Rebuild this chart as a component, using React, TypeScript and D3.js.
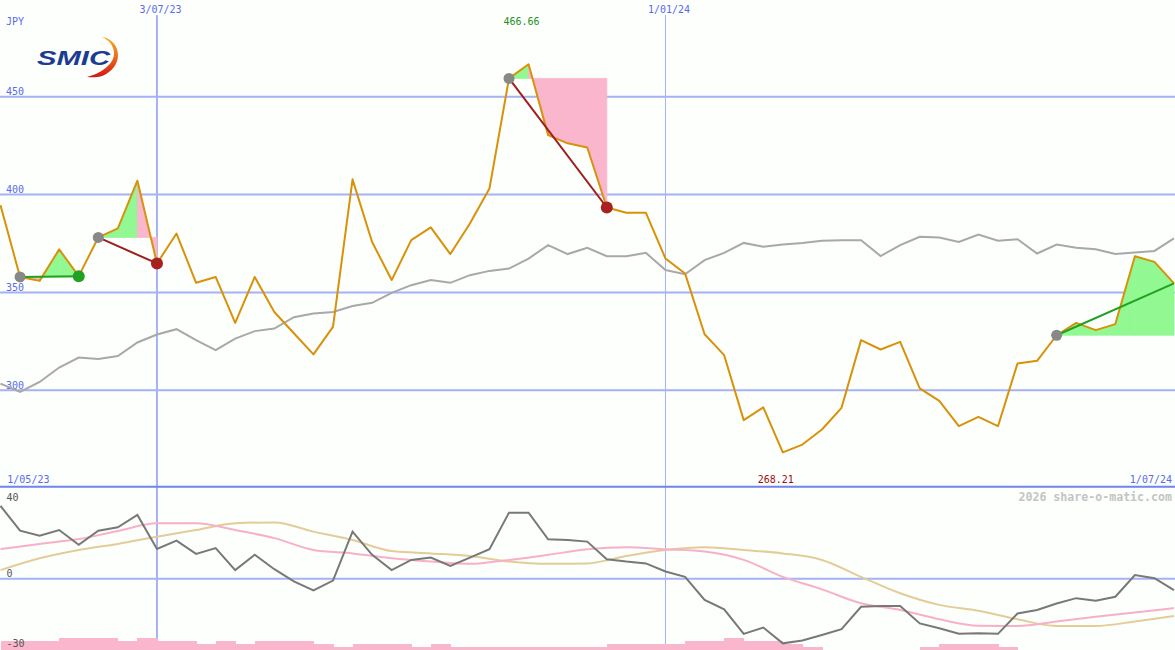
import React from "react";
import * as d3 from "d3";

// ---------- data ----------
const WEEK_MS = 7 * 864e5;
const FIRST_WEEK = Date.UTC(2023, 4, 8);
const LAST_WEEK = Date.UTC(2024, 6, 1);

// weekly close (JPY)
const prices = [
  394.6, 357.9, 355.9, 372.0, 358.3, 378.1, 382.7, 407.1, 364.8, 380.1,
  354.9, 357.9, 334.4, 357.9, 340.0, 329.1, 318.3, 332.4, 407.8, 375.8,
  356.3, 376.7, 383.2, 369.6, 385.2, 403.1, 459.4, 466.66, 430.4, 426.2,
  424.1, 393.4, 390.7, 390.7, 367.3, 359.7, 328.6, 317.9, 284.7, 291.2,
  268.21, 272.2, 279.9, 291.0, 325.6, 320.8, 324.7, 300.9, 294.5, 281.6,
  286.4, 281.6, 313.7, 315.0, 328.1, 334.4, 330.7, 333.8, 368.5, 365.6,
  354.6,
];

// comparison index (rebased)
const benchmark = [
  303.4, 299.1, 304.2, 311.6, 316.7, 315.9, 317.5, 324.4, 328.5, 331.2,
  325.6, 320.5, 326.4, 330.2, 331.5, 337.3, 339.2, 340.0, 343.0, 344.7,
  349.8, 353.7, 356.3, 354.9, 358.8, 361.0, 362.2, 367.3, 374.2, 369.6,
  372.8, 368.5, 368.5, 370.2, 361.4, 359.3, 366.5, 370.2, 375.3, 373.3,
  374.5, 375.3, 376.4, 376.7, 376.7, 368.6, 374.2, 378.4, 378.1, 375.8,
  379.6, 376.4, 377.2, 369.9, 374.5, 372.8, 372.1, 369.6, 370.4, 371.2,
  377.6,
];

// lower panel: weekly momentum
const momentum = [
  31.4, 20.7, 18.5, 21.0, 14.6, 20.7, 22.2, 27.5, 12.8, 16.4,
  10.7, 13.2, 3.7, 10.3, 4.1, -1.2, -5.1, -0.8, 20.3, 10.3,
  3.7, 8.1, 9.1, 5.5, 9.1, 12.7, 28.5, 28.5, 17.0, 16.7,
  16.0, 8.4, 7.4, 6.6, 3.1, 0.8, -9.2, -13.2, -23.8, -21.1,
  -27.9, -26.7, -24.3, -21.8, -12.1, -11.8, -11.8, -19.3, -21.4, -23.8,
  -23.6, -23.8, -15.0, -13.5, -10.7, -8.4, -9.5, -7.8, 1.6, 0.2,
  -4.9,
];

// lower panel: smoothed averages, sampled every two weeks
const avgFast = [
  12.8, 15.0, 17.1, 20.6, 23.9, 23.9, 21.0, 17.5, 12.4, 10.9,
  8.8, 7.4, 6.4, 8.1, 10.3, 12.7, 13.6, 12.7, 11.7, 8.1,
  0.8, -4.6, -10.6, -13.5, -17.5, -20.3, -20.4, -18.5, -16.4, -14.6,
  -12.7,
];
const avgSlow = [
  3.7, 8.8, 12.4, 15.0, 18.1, 21.0, 23.9, 24.3, 20.3, 16.7,
  11.9, 10.9, 9.8, 7.4, 6.4, 6.6, 9.8, 12.4, 13.6, 12.4,
  10.9, 8.1, 0.8, -6.3, -11.3, -13.8, -17.5, -20.4, -20.4, -18.5,
  -16.1,
];

// weekly volume level
const volume = [
  3, 3, 3, 4, 4, 4, 3, 4, 3, 3, 2, 3, 2, 3, 3, 3, 2, 1, 2, 2,
  2, 1, 2, 1, 1, 1, 1, 1, 1, 1, 1, 2, 2, 2, 2, 3, 3, 4, 3, 3,
  2, 1, 0, 0, 0, 0, 0, 1, 2, 2, 2, 1, 0, 0, 0, 0, 0, 0, 0, 0,
];

// trades (week index of entry / exit; null = still open)
const tradeEntry = [1, 5, 26, 54];
const tradeExit: (number | null)[] = [4, 8, 31, null];

const priceTicks = [300, 350, 400, 450];
const lowerTicks = [40, 0, -30];
const dateTicks = [Date.UTC(2023, 6, 3), Date.UTC(2024, 0, 1)];
const rangeLabels = [Date.UTC(2023, 4, 1), Date.UTC(2024, 6, 1)];

// ---------- styles ----------
const W = 1175;
const H = 650;
const BG = "#fcfffc";
const GRID = "#a6b2f2";
const SEP = "#7282ee";
const LABEL_BLUE = "#5a6af0";
const ORANGE = "#d8920a";
const GREY = "#a8a8a8";
const DARK = "#787878";
const PINK_LINE = "#f8b0c8";
const TAN = "#e4cc98";
const PINK_FILL = "#f9b6cc";
const GREEN_FILL = "#92f992";
const MONO = "'DejaVu Sans Mono', monospace";

export default function App() {
  const weekDates = prices.map((_, i) => new Date(FIRST_WEEK + i * WEEK_MS));
  const biDates = avgFast.map((_, i) => new Date(FIRST_WEEK + 2 * i * WEEK_MS));

  const x = d3.scaleUtc().domain([new Date(FIRST_WEEK), new Date(LAST_WEEK)]).range([0.5, 1174]);
  const y = d3.scaleLinear().domain([250, 500]).range([488, -1]);
  const yl = d3.scaleLinear().domain([-30, 40]).range([648.2, 486]);
  const yv = d3.scaleLinear().domain([0, 4]).range([650, 637.7]);

  const fmt = d3.utcFormat("%-d/%m/%y");
  const xi = (i: number) => x(weekDates[i]);

  const priceLine = d3.line<number>().x((_, i) => xi(i)).y((d) => y(d));
  const lowerLine = d3.line<number>().x((_, i) => xi(i)).y((d) => yl(d));
  const biLine = d3.line<number>().x((_, i) => x(biDates[i])).y((d) => yl(d)).curve(d3.curveMonotoneX);
  const poly = d3.line<[number, number]>();

  const maxV = d3.max(prices)!;
  const minV = d3.min(prices)!;
  const maxI = prices.indexOf(maxV);
  const minI = prices.indexOf(minV);

  const fills: { d: string; c: string }[] = [];
  const trades = tradeEntry.map((e, t) => {
    const ex = tradeExit[t];
    const end = ex == null ? prices.length - 1 : ex;
    const base = prices[e];
    for (let i = e; i < end; i++) {
      const pts: [number, number][] = [
        [xi(i), y(base)],
        [xi(i), y(prices[i])],
        [xi(i + 1), y(prices[i + 1])],
        [xi(i + 1), y(base)],
      ];
      fills.push({ d: poly(pts) + "Z", c: prices[i + 1] >= base ? GREEN_FILL : PINK_FILL });
    }
    const win = prices[end] >= base;
    return { e, end, open: ex == null, win };
  });

  return (
    <svg width={W} height={H} style={{ position: "absolute", left: 0, top: 0, display: "block" }}>
      <rect x={0} y={0} width={W} height={H} fill={BG} />

      {/* logo */}
      <defs>
        <linearGradient id="swoosh" x1="0" y1="0" x2="0" y2="1">
          <stop offset="0" stopColor="#f5b022" />
          <stop offset="0.5" stopColor="#ee6a1a" />
          <stop offset="1" stopColor="#d41414" />
        </linearGradient>
      </defs>
      <text x={37} y={65} fontFamily="'Liberation Sans', Arial, sans-serif" fontWeight={900} fontStyle="italic"
        fontSize={21} fill="#1c3c92" textLength={73} lengthAdjust="spacingAndGlyphs">SMIC</text>
      <path d="M102 37 C118 39 125 60 109 72 C103 77 95 78 87 77 C99 74 115 65 114 52 C113 45 109 40 102 37 Z"
        fill="url(#swoosh)" />

      {/* grid */}
      {priceTicks.map((v) => (
        <g key={v}>
          <line x1={0} x2={W} y1={y(v)} y2={y(v)} stroke={GRID} strokeWidth={2} />
          <text x={6} y={y(v) - 1.7} fontFamily={MONO} fontSize={10} fill={LABEL_BLUE}>{v}</text>
        </g>
      ))}
      <line x1={0} x2={W} y1={yl(0)} y2={yl(0)} stroke={GRID} strokeWidth={2} />
      {dateTicks.map((t, i) => (
        <g key={t}>
          <line x1={x(new Date(t))} x2={x(new Date(t))} y1={15} y2={H} stroke={GRID} strokeWidth={i === 0 ? 2 : 1} />
          <text x={x(new Date(t)) - 17.5} y={13.3} fontFamily={MONO} fontSize={10} fill={LABEL_BLUE}>{fmt(new Date(t))}</text>
        </g>
      ))}
      <line x1={0} x2={W} y1={486.7} y2={486.7} stroke={SEP} strokeWidth={2} />

      <text x={6} y={25} fontFamily={MONO} fontSize={10} fill={LABEL_BLUE}>JPY</text>
      <text x={7.3} y={483.3} fontFamily={MONO} fontSize={10} fill={LABEL_BLUE}>{fmt(new Date(rangeLabels[0]))}</text>
      <text x={1172} y={483.3} textAnchor="end" fontFamily={MONO} fontSize={10} fill={LABEL_BLUE}>{fmt(new Date(rangeLabels[1]))}</text>
      <text x={1172} y={500.5} textAnchor="end" fontFamily={MONO} fontSize={11.6} fontWeight="bold" fill="#c4c4c4">2026 share-o-matic.com</text>

      {/* trade fills */}
      {fills.map((f, i) => <path key={i} d={f.d} fill={f.c} stroke={f.c} strokeWidth={0.8} />)}

      {/* main lines */}
      <path d={priceLine(benchmark)!} fill="none" stroke={GREY} strokeWidth={2} />
      <path d={priceLine(prices)!} fill="none" stroke={ORANGE} strokeWidth={2} strokeLinejoin="round" />

      {/* trade lines + markers */}
      {trades.map((t, k) => (
        <line key={"l" + k} x1={xi(t.e)} y1={y(prices[t.e])} x2={xi(t.end)} y2={y(prices[t.end])}
          stroke={t.win ? "#22a022" : "#a01c1c"} strokeWidth={2} />
      ))}
      {trades.map((t, k) => (
        <g key={"d" + k}>
          <circle cx={xi(t.e)} cy={y(prices[t.e])} r={5.5} fill="#888888" />
          {!t.open && <circle cx={xi(t.end)} cy={y(prices[t.end])} r={6} fill={t.win ? "#22a022" : "#a82020"} />}
        </g>
      ))}

      {/* extremes */}
      <text x={xi(maxI) - 7} y={25} textAnchor="middle" fontFamily={MONO} fontSize={10} fill="#1e901e">{maxV.toFixed(2)}</text>
      <text x={xi(minI) - 7} y={483.3} textAnchor="middle" fontFamily={MONO} fontSize={10} fill="#a01010">{minV.toFixed(2)}</text>

      {/* lower panel */}
      <g shapeRendering="crispEdges">
        {volume.map((v, i) => v > 0 && (
          <rect key={"v" + i} x={xi(i)} width={xi(i + 1) - xi(i) + 0.6} y={yv(v)} height={H - yv(v)} fill={PINK_FILL} />
        ))}
      </g>
      <path d={biLine(avgSlow)!} fill="none" stroke={TAN} strokeWidth={2} />
      <path d={biLine(avgFast)!} fill="none" stroke={PINK_LINE} strokeWidth={2} />
      <path d={lowerLine(momentum)!} fill="none" stroke={DARK} strokeWidth={2} />
      {lowerTicks.map((v) => (
        <text key={v} x={6.5} y={v === 40 ? yl(v) + 14.7 : yl(v) - 1.6} fontFamily={MONO} fontSize={10} fill="#555555">{v}</text>
      ))}
    </svg>
  );
}
